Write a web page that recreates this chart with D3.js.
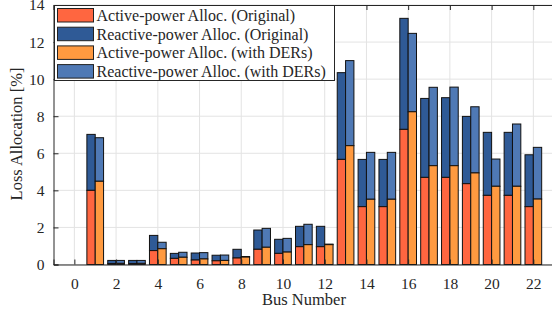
<!DOCTYPE html>
<html>
<head>
<meta charset="utf-8">
<script src="https://cdn.jsdelivr.net/npm/d3@7"></script>
<style>
  body { margin: 0; background: #fff; }
  text { font-family: "Liberation Serif", serif; fill: #262626; }
</style>
</head>
<body>
<div id="container"></div>
<script>
// values
var buses = [1, 2, 3, 4, 5, 6, 7, 8, 9, 10, 11, 12, 13, 14, 15, 16, 17, 18, 19, 20, 21, 22];
var activeOrig = [4.0, 0.05, 0.05, 0.75, 0.33, 0.24, 0.2, 0.35, 0.82, 0.6, 0.96, 0.96, 5.67, 3.12, 3.12, 7.29, 4.7, 4.7, 4.36, 3.73, 3.73, 3.12];
var reactiveOrig = [3.02, 0.17, 0.17, 0.82, 0.27, 0.38, 0.3, 0.47, 1.04, 0.76, 1.1, 1.1, 4.68, 2.55, 2.55, 5.99, 4.26, 4.3, 3.63, 3.4, 3.4, 2.8];
var activeDER = [4.49, 0.06, 0.06, 0.85, 0.39, 0.3, 0.22, 0.4, 0.93, 0.67, 1.07, 1.07, 6.41, 3.52, 3.52, 8.24, 5.33, 5.33, 4.94, 4.22, 4.22, 3.53];
var reactiveDER = [2.35, 0.16, 0.16, 0.35, 0.27, 0.34, 0.29, 0.03, 1.02, 0.74, 1.1, 0.03, 4.59, 2.53, 2.53, 4.23, 4.23, 4.24, 3.57, 1.47, 3.36, 2.79];
var xTicks = [0, 2, 4, 6, 8, 10, 12, 14, 16, 18, 20, 22];
var yTicks = [0, 2, 4, 6, 8, 10, 12, 14];
var legendLabels = [
  "Active-power Alloc. (Original)",
  "Reactive-power Alloc. (Original)",
  "Active-power Alloc. (with DERs)",
  "Reactive-power Alloc. (with DERs)"
];
var colors = ["#ff6640", "#2f5a96", "#ff9a40", "#4f79b5"];

var w = 552;
var h = 316;

var svg = d3.select("#container").append("svg")
  .attr("width", w)
  .attr("height", h);

var xScale = d3.scaleLinear().domain([-1, 23]).range([53.5, 554.2]);
var yScale = d3.scaleLinear().domain([0, 14]).range([264.5, 5]);
var unit = xScale(1) - xScale(0);
var barW = 0.4 * unit;

// grid
svg.append("g").selectAll("line.gx").data(xTicks).enter().append("line")
  .attr("x1", d => xScale(d)).attr("x2", d => xScale(d))
  .attr("y1", yScale(0)).attr("y2", yScale(14))
  .attr("stroke", "#e3e3e3").attr("stroke-width", 1);
svg.append("g").selectAll("line.gy").data(yTicks).enter().append("line")
  .attr("x1", xScale(-1)).attr("x2", xScale(23))
  .attr("y1", d => yScale(d)).attr("y2", d => yScale(d))
  .attr("stroke", "#e3e3e3").attr("stroke-width", 1);

// stacked pairs of bars
var series = [
  { active: activeOrig, reactive: reactiveOrig, off: -barW, ca: colors[0], cr: colors[1] },
  { active: activeDER, reactive: reactiveDER, off: 0, ca: colors[2], cr: colors[3] }
];
series.forEach(function (s) {
  var g = svg.append("g");
  g.selectAll("rect.r").data(buses).enter().append("rect")
    .attr("x", (d) => xScale(d) + s.off)
    .attr("y", (d, i) => yScale(s.active[i] + s.reactive[i]))
    .attr("width", barW)
    .attr("height", (d, i) => yScale(s.active[i]) - yScale(s.active[i] + s.reactive[i]))
    .attr("fill", s.cr)
    .attr("stroke", "#111").attr("stroke-width", 1);
  g.selectAll("rect.a").data(buses).enter().append("rect")
    .attr("x", (d) => xScale(d) + s.off)
    .attr("y", (d, i) => yScale(s.active[i]))
    .attr("width", barW)
    .attr("height", (d, i) => yScale(0) - yScale(s.active[i]))
    .attr("fill", s.ca)
    .attr("stroke", "#111").attr("stroke-width", 1);
});

// axes, ticks inward like matlab
var xAxis = d3.axisBottom(xScale).tickValues(xTicks).tickSize(-5).tickPadding(13);
svg.append("g")
  .attr("transform", "translate(0," + yScale(0) + ")")
  .call(xAxis)
  .call(g => g.selectAll("text").style("font-size", "15.5px").attr("fill", "#262626"));
var xTop = d3.axisTop(xScale).tickValues(xTicks).tickSize(-5).tickFormat("");
svg.append("g")
  .attr("transform", "translate(0," + yScale(14) + ")")
  .call(xTop);
var yAxis = d3.axisLeft(yScale).tickValues(yTicks).tickSize(-5).tickPadding(9);
svg.append("g")
  .attr("transform", "translate(" + xScale(-1) + ",0)")
  .call(yAxis)
  .call(g => g.selectAll("text").style("font-size", "15.5px").attr("fill", "#262626"));
svg.selectAll(".domain").attr("stroke", "#262626");
svg.selectAll(".tick line").attr("stroke", "#262626");
svg.selectAll("g text").attr("font-family", "Liberation Serif");

// axis titles
svg.append("text")
  .attr("x", 304).attr("y", 305)
  .attr("text-anchor", "middle")
  .style("font-size", "16.5px")
  .text("Bus Number");
svg.append("text")
  .attr("transform", "translate(22,134) rotate(-90)")
  .attr("text-anchor", "middle")
  .style("font-size", "16.5px")
  .text("Loss Allocation [%]");

// legend
var lg = svg.append("g");
lg.append("rect")
  .attr("x", 54.5).attr("y", 5.5)
  .attr("width", 280).attr("height", 75)
  .attr("fill", "#fff").attr("stroke", "#262626").attr("stroke-width", 1);
legendLabels.forEach(function (t, i) {
  var yy = 8.5 + i * 18.7;
  lg.append("rect")
    .attr("x", 57.5).attr("y", yy)
    .attr("width", 36).attr("height", 13.5)
    .attr("fill", colors[i]).attr("stroke", "#222").attr("stroke-width", 1);
  lg.append("text")
    .attr("x", 96.5).attr("y", yy + 12.5)
    .style("font-size", "16px")
    .text(t);
});
</script>
</body>
</html>
